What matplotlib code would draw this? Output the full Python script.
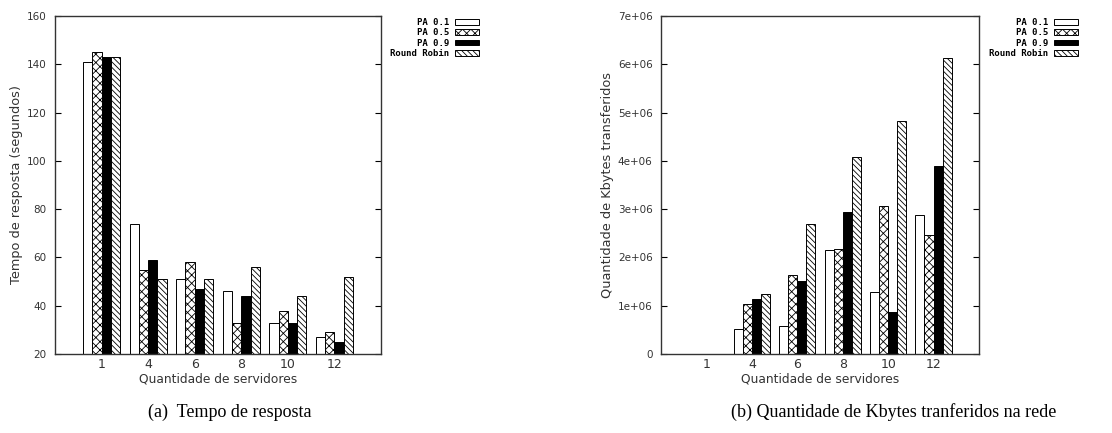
import numpy as np
import matplotlib
matplotlib.use('Agg')
import matplotlib.pyplot as plt
from matplotlib.ticker import FuncFormatter

# Datos
servidores = ['1', '4', '6', '8', '10', '12']
series = ['PA 0.1', 'PA 0.5', 'PA 0.9', 'Round Robin']

tempo_pa01 = [141, 74, 51, 46, 33, 27]
tempo_pa05 = [145, 55, 58, 33, 38, 29]
tempo_pa09 = [143, 59, 47, 44, 33, 25]
tempo_rr = [143, 51, 51, 56, 44, 52]

kbytes_pa01 = [0, 0.52e6, 0.57e6, 2.15e6, 1.28e6, 2.88e6]
kbytes_pa05 = [0, 1.04e6, 1.64e6, 2.17e6, 3.06e6, 2.47e6]
kbytes_pa09 = [0, 1.13e6, 1.52e6, 2.95e6, 0.86e6, 3.90e6]
kbytes_rr = [0, 1.25e6, 2.70e6, 4.08e6, 4.83e6, 6.12e6]

plt.rcParams['hatch.linewidth'] = 0.6
estilos = [
    dict(facecolor='white', hatch=None),
    dict(facecolor='white', hatch='xxxx'),
    dict(facecolor='black', hatch=None),
    dict(facecolor='white', hatch='\\\\\\\\\\\\'),
]

W, H = 1112, 433
fig = plt.figure(figsize=(W / 100, H / 100), dpi=100)
ax1 = fig.add_axes([55 / W, 1 - 354 / H, 326 / W, 338 / H])
ax2 = fig.add_axes([661 / W, 1 - 354 / H, 318 / W, 338 / H])

x = np.arange(len(servidores))
ancho = 0.2


def dibujar(ax, datos, ylabel, legend_right):
    for i, (vals, est) in enumerate(zip(datos, estilos)):
        ax.bar(x - 0.3 + i * ancho, vals, ancho, label=series[i],
               edgecolor='black', linewidth=0.7, **est)
    ax.set_xlim(-1, 6)
    ax.set_xticks(x)
    ax.set_xticklabels(servidores, fontsize=9, color='#333333')
    ax.tick_params(axis='x', length=0, pad=3)
    ax.tick_params(axis='y', direction='in', length=4, right=True,
                   labelsize=7.5, colors='black', labelcolor='#333333', pad=6)
    ax.set_xlabel('Quantidade de servidores', fontsize=8.8, color='#333333', labelpad=1)
    ax.set_ylabel(ylabel, fontsize=9.3, color='#333333', labelpad=3)
    for s in ax.spines.values():
        s.set_color('#333333')
        s.set_linewidth(1.0)
    ax.legend(loc='upper right', bbox_to_anchor=(legend_right / W, 1 - 18 / H),
              bbox_transform=fig.transFigure, frameon=False, markerfirst=False,
              borderpad=0, borderaxespad=0, handlelength=2.7, handleheight=0.6,
              handletextpad=0.6, labelspacing=0.15,
              prop=dict(family='DejaVu Sans Mono', weight='bold', size=6.5))


dibujar(ax1, [tempo_pa01, tempo_pa05, tempo_pa09, tempo_rr],
        'Tempo de resposta (segundos)', 479)
ax1.set_ylim(20, 160)
ax1.set_yticks(range(20, 161, 20))

dibujar(ax2, [kbytes_pa01, kbytes_pa05, kbytes_pa09, kbytes_rr],
        'Quantidade de Kbytes transferidos', 1078)
ax2.set_ylim(0, 7e6)
ax2.set_yticks(np.arange(0, 7.01e6, 1e6))
ax2.yaxis.set_major_formatter(FuncFormatter(lambda v, p: '0' if v == 0 else f'{int(round(v / 1e6))}e+06'))

fig.text(230 / W, 1 - 412 / H, '(a)  Tempo de resposta', ha='center', va='center',
         family='Liberation Serif', fontsize=13)
fig.text(894 / W, 1 - 412 / H, '(b) Quantidade de Kbytes tranferidos na rede',
         ha='center', va='center', family='Liberation Serif', fontsize=13)

fig.savefig('out.png', dpi=100)
